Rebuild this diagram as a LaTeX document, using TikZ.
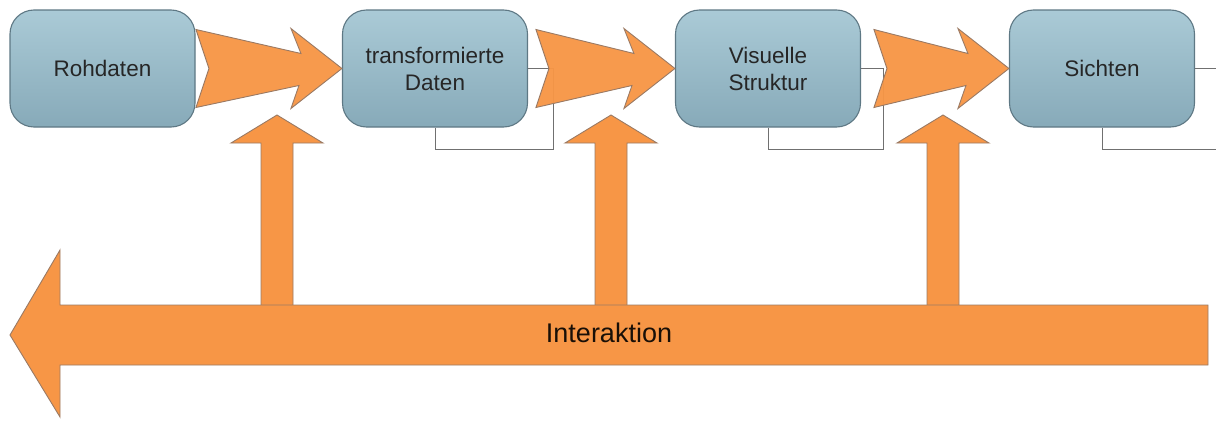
\documentclass[tikz,border=0pt]{standalone}
\usepackage{fontspec}
\setmainfont{Liberation Sans}
\usetikzlibrary{calc}
\definecolor{boxtop}{HTML}{AACAD6}
\definecolor{boxbot}{HTML}{87AAB9}
\definecolor{boxline}{HTML}{5E7884}
\definecolor{flowfill}{HTML}{F79646}
\definecolor{flowline}{HTML}{9A7A64}
\definecolor{fbline}{HTML}{707070}
\tikzset{
  stagebox/.style={draw=boxline, line width=1.1pt, rounded corners=24pt,
    top color=boxtop, bottom color=boxbot, minimum width=185pt,
    minimum height=117pt, align=center, text=black!85,
    font=\fontsize{22.5}{27}\selectfont, inner sep=0pt},
  flow/.style={fill=flowfill, draw=flowline, line width=0.9pt, line join=miter},
  fb/.style={draw=fbline, line width=0.9pt},
  biglabel/.style={font=\fontsize{27}{32}\selectfont, text=black!90!flowfill, inner sep=0pt}
}
\begin{document}
\begin{tikzpicture}[x=1pt,y=-1pt]
\useasboundingbox (0,0) rectangle (1216,423);

% processing stages
\node[stagebox] (b1) at (102.5,68.5) {Rohdaten};
\node[stagebox] (b2) at (435,68.5) {transformierte\\Daten};
\node[stagebox] (b3) at (768,68.5) {Visuelle\\Struktur};
\node[stagebox] (b4) at (1102,68.5) {Sichten};

% feedback loops of each stage
\draw[fb] (b2.east) -- ++(25,0) -- ++(0,80.5) -| (b2.south);
\draw[fb] (b3.east) -- ++(22.5,0) -- ++(0,80.5) -| (b3.south);
\coordinate (r4a) at (1216,68.5);
\coordinate (r4b) at (1216,149);
\draw[fb] (b4.east) -- (r4a);
\draw[fb] (b4.south) |- (r4b);

% chevron arrows between the stages
\foreach \s/\t/\L in {b1/b2/146,b2/b3/139,b3/b4/135}{
  \path[flow, fill opacity=0.96] (\t.west) -- ++(-51,-40) -- ++(10,25)
    -- ($(\t.west)+(-\L,-39)$) -- ($(\t.west)+(-\L+13,0)$)
    -- ($(\t.west)+(-\L,39)$) -- ($(\t.west)+(-43,17)$)
    -- ($(\t.west)+(-51,40)$) -- cycle;
}

% upward arrows from the interaction bar
\foreach \x in {277,611,943}{
  \coordinate (u\x) at (\x,306);
  \path[flow] (u\x) ++(-16,0) -- ++(0,-163) -- ++(-30,0) -- ++(46,-28)
    -- ++(46,28) -- ++(-30,0) -- ++(0,163) -- cycle;
}

% large arrow pointing back to the left, with its label
\path[flow] (1208,305) -- (60,305) -- (60,250) -- (10,335) -- (60,417)
  -- (60,365) -- (1208,365) -- cycle;
\node[biglabel] (inter) at (609,333) {Interaktion};
\end{tikzpicture}
\end{document}
